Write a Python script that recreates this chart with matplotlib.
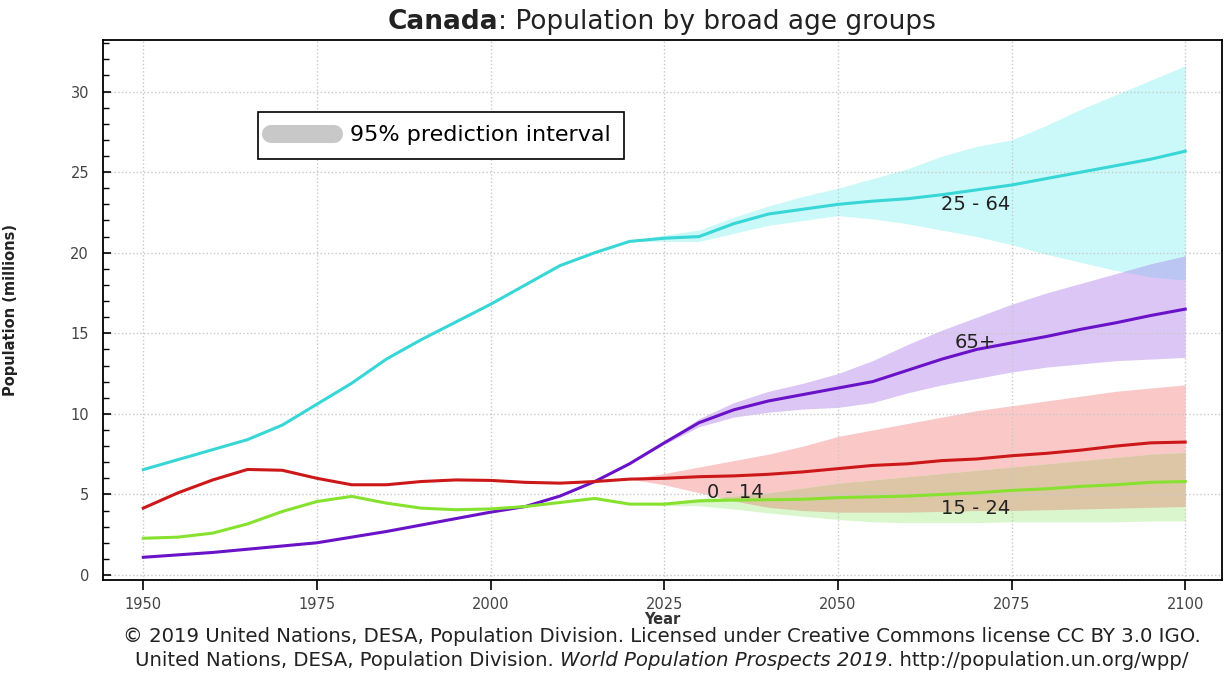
import matplotlib.pyplot as plt
import numpy as np
from matplotlib.lines import Line2D

# 5-year points, 1950-2100 (millions)
years = np.arange(1950, 2101, 5)
age_0_14 = [4.15, 5.1, 5.9, 6.55, 6.5, 6.0, 5.6, 5.6, 5.8, 5.9, 5.87, 5.75, 5.7, 5.8, 5.95,
            6.0, 6.1, 6.15, 6.25, 6.4, 6.6, 6.8, 6.9, 7.1, 7.2, 7.4, 7.55, 7.75, 8.0, 8.2, 8.25]
age_15_24 = [2.28, 2.35, 2.6, 3.17, 3.94, 4.56, 4.88, 4.46, 4.15, 4.05, 4.1, 4.25, 4.5, 4.75, 4.4,
             4.4, 4.6, 4.65, 4.67, 4.7, 4.8, 4.85, 4.9, 5.0, 5.1, 5.25, 5.35, 5.5, 5.6, 5.75, 5.8]
age_25_64 = [6.54, 7.16, 7.78, 8.4, 9.3, 10.6, 11.9, 13.4, 14.6, 15.7, 16.8, 18.0, 19.2, 20.0, 20.7,
             20.9, 21.0, 21.8, 22.4, 22.7, 23.0, 23.2, 23.35, 23.6, 23.9, 24.2, 24.6, 25.0, 25.4, 25.8, 26.3]
age_65 = [1.1, 1.25, 1.4, 1.6, 1.8, 2.0, 2.35, 2.7, 3.1, 3.5, 3.9, 4.25, 4.9, 5.8, 6.9,
          8.2, 9.45, 10.25, 10.8, 11.2, 11.6, 12.0, 12.7, 13.4, 14.0, 14.4, 14.8, 15.25, 15.65, 16.1, 16.5]

# 95% prediction intervals, 2020-2100
proj_years = np.arange(2020, 2101, 5)
lo_0_14 = np.array([5.95, 5.6, 5.1, 4.6, 4.2, 4.0, 3.9, 3.9, 3.9, 3.95, 4.0, 4.0, 4.05, 4.1, 4.15, 4.2, 4.25])
hi_0_14 = np.array([5.95, 6.3, 6.7, 7.1, 7.5, 8.0, 8.6, 9.0, 9.4, 9.8, 10.2, 10.5, 10.8, 11.1, 11.4, 11.6, 11.8])
lo_15_24 = np.array([4.4, 4.3, 4.3, 4.1, 3.85, 3.65, 3.45, 3.3, 3.25, 3.25, 3.25, 3.3, 3.3, 3.3, 3.3, 3.35, 3.35])
hi_15_24 = np.array([4.4, 4.5, 4.75, 4.9, 5.1, 5.4, 5.7, 5.9, 6.1, 6.3, 6.5, 6.7, 6.9, 7.1, 7.3, 7.5, 7.6])
lo_25_64 = np.array([20.7, 20.7, 20.7, 21.2, 21.7, 22.0, 22.3, 22.1, 21.8, 21.4, 21.0, 20.5, 19.9, 19.4, 18.9, 18.5, 18.3])
hi_25_64 = np.array([20.7, 21.1, 21.4, 22.2, 22.9, 23.5, 24.0, 24.6, 25.2, 26.0, 26.6, 27.0, 27.9, 28.9, 29.8, 30.7, 31.6])
lo_65 = np.array([6.9, 8.1, 9.2, 9.8, 10.1, 10.3, 10.4, 10.7, 11.3, 11.8, 12.2, 12.6, 12.9, 13.1, 13.3, 13.4, 13.5])
hi_65 = np.array([6.9, 8.3, 9.7, 10.7, 11.4, 11.9, 12.5, 13.3, 14.3, 15.2, 16.0, 16.8, 17.5, 18.1, 18.7, 19.3, 19.8])

W, H = 1230, 679
fig = plt.figure(figsize=(W / 100, H / 100), dpi=100)
ax = fig.add_axes([103 / W, 1 - 580 / H, 1119 / W, 540 / H])

ax.fill_between(proj_years, lo_25_64, hi_25_64, color='#cbf9f9', lw=0)
ax.fill_between(proj_years, lo_65, hi_65, color='#dcc6f5', lw=0)
ax.fill_between(proj_years, lo_0_14, hi_0_14, color='#fbc8c8', lw=0)
ax.fill_between(proj_years, lo_15_24, hi_15_24, color='#daf6cc', lw=0)
# overlapping parts of the intervals
lo = np.maximum(lo_0_14, lo_15_24)
hi = np.minimum(hi_0_14, hi_15_24)
ax.fill_between(proj_years, lo, hi, where=hi > lo, interpolate=True, color='#dcc6a6', lw=0)
lo = np.maximum(lo_25_64, lo_65)
hi = np.minimum(hi_25_64, hi_65)
ax.fill_between(proj_years, lo, hi, where=hi > lo, interpolate=True, color='#bcc6f2', lw=0)

ax.plot(years, age_25_64, color='#38d6d6', lw=2.2)
ax.plot(years, age_65, color='#6a12c8', lw=2.2)
ax.plot(years, age_0_14, color='#cc1818', lw=2.2)
ax.plot(years, age_15_24, color='#86e22e', lw=2.2)

ax.text(2069.8, 23.0, '25 - 64', fontsize=14, ha='center', va='center', color='#222222')
ax.text(2069.8, 14.4, '65+', fontsize=14, ha='center', va='center', color='#222222')
ax.text(2035.2, 5.15, '0 - 14', fontsize=14, ha='center', va='center', color='#222222')
ax.text(2069.8, 4.15, '15 - 24', fontsize=14, ha='center', va='center', color='#222222')

ax.set_xlim(1944.2, 2105.3)
ax.set_ylim(-0.31, 33.2)
ax.set_xticks(np.arange(1950, 2101, 25))
ax.set_yticks(np.arange(0, 31, 5))
ax.set_yticks(np.arange(0, 34, 1), minor=True)
ax.tick_params(axis='x', direction='out', length=7, width=1.2, labelsize=10.5, labelcolor='#444444', pad=5)
ax.tick_params(axis='y', which='major', direction='in', length=6, width=1.2, labelsize=10.5,
               labelcolor='#444444', pad=10)
ax.tick_params(axis='y', which='minor', direction='in', length=4, width=1)
ax.grid(True, which='major', color='#c8c8c8', linestyle=':', lw=1)
for s in ax.spines.values():
    s.set_linewidth(1.3)

ax.set_ylabel('Population (millions)', fontsize=10.5, fontweight='bold', color='#222222')
ax.yaxis.set_label_coords(-0.076, 0.5)

handle = Line2D([], [], color='#c8c8c8', lw=13, solid_capstyle='round')
leg = ax.legend([handle], ['95% prediction interval'], loc='upper left',
                bbox_to_anchor=(155 / 1119, 468 / 540), borderaxespad=0, fontsize=16,
                fancybox=False, edgecolor='black', framealpha=1, handlelength=2.8,
                handletextpad=0.75, borderpad=0.6)
leg.get_frame().set_linewidth(1.2)

fig.text(662 / W, 1 - 620 / H, 'Year', fontsize=10.5, fontweight='bold', ha='center', va='center',
         color='#333333')


def mixed_line(py, parts, size, cx=662):
    r = fig.canvas.get_renderer()
    texts = [fig.text(0, 1 - py / H, s, fontsize=size, va='center', ha='left', color='#222222', **kw)
             for s, kw in parts]
    widths = [t.get_window_extent(r).width for t in texts]
    x = cx - sum(widths) / 2
    for t, w in zip(texts, widths):
        t.set_x(x / W)
        x += w


mixed_line(22, [('Canada', {'fontweight': 'bold'}), (': Population by broad age groups', {})], 19)
mixed_line(637, [('\u00a9 2019 United Nations, DESA, Population Division. Licensed under Creative '
                  'Commons license CC BY 3.0 IGO.', {})], 14.2)
mixed_line(660, [('United Nations, DESA, Population Division. ', {}),
                 ('World Population Prospects 2019', {'fontstyle': 'italic'}),
                 ('. http://population.un.org/wpp/', {})], 14.2)

fig.savefig('out.png', dpi=100)
